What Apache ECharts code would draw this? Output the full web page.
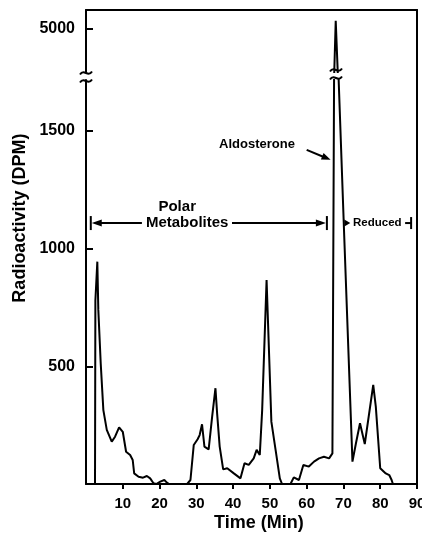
<!DOCTYPE html>
<html><head><meta charset="utf-8">
<script src="https://cdn.jsdelivr.net/npm/echarts@6/dist/echarts.min.js"></script>
<style>html,body{margin:0;padding:0;background:#fff}#c{width:422px;height:534px}</style>
</head><body><div id="c"></div>
<script>
// ---- data ----
const times = [2.45, 2.55, 3.08, 3.35, 4.0, 4.72, 5.65, 7.0, 7.9, 9.0, 10.0, 10.9, 12.0, 12.7, 13.1, 14.3, 15.5, 16.55, 17.45, 18.35, 19.1, 20.2, 21.3, 22.0, 22.6, 27.5, 28.4, 29.3, 30.35, 30.9, 31.55, 32.2, 33.35, 34.3, 35.2, 35.65, 36.35, 37.3, 38.4, 40.2, 42.0, 43.1, 44.25, 45.6, 46.4, 47.25, 47.9, 49.1, 50.4, 51.55, 52.7, 53.3, 55.6, 56.5, 57.9, 59.1, 60.6, 62.0, 63.35, 64.7, 66.1, 67.0, 67.45, 67.5, 67.9, 68.45, 68.7, 70.2, 72.45, 73.4, 74.5, 75.8, 78.1, 78.8, 80.0, 81.5, 82.45, 83.1, 83.45];
const dpm   = [0, 780, 945, 740, 513, 314, 230, 180, 201, 241, 222, 137, 123, 102, 45, 31, 27, 34, 24, 3, 0, 10, 17, 6, 0, 0, 17, 166, 190, 208, 254, 159, 147, 286, 407, 300, 159, 62, 67, 45, 24, 88, 81, 109, 145, 123, 314, 867, 265, 145, 24, 0, 0, 28, 17, 81, 74, 95, 109, 116, 109, 130, 1717, 3840, 5210, 3840, 1717, 1058, 95, 173, 258, 170, 421, 329, 67, 45, 38, 17, 0];
const xTickLabels = [10, 20, 30, 40, 50, 60, 70, 80, 90];
const lowerTickLabels = [500, 1000, 1500];
const upperTickLabels = [5000];
const lowerRange = [0, 1717];
const upperRange = [3840, 5500];
const xRange = [0, 90];

const series = times.map((t, i) => [t, dpm[i]]);
const black = '#000';
const numFont = 'Liberation Sans, Arial, sans-serif';
const txtFont = 'Liberation Sans, Arial, sans-serif';
const plain = v => String(v);

const chart = echarts.init(document.getElementById('c'), null, {renderer: 'canvas'});
const G = {left: 86, right: 5, outerBoundsMode: 'none', containLabel: false};
chart.setOption({
  backgroundColor: '#fff',
  animation: false,
  grid: [
    Object.assign({top: 10, height: 62}, G),
    Object.assign({top: 80, bottom: 50}, G),
    Object.assign({top: 10, bottom: 50}, G)
  ],
  xAxis: [
    {gridIndex: 0, type: 'value', min: xRange[0], max: xRange[1], show: false},
    {gridIndex: 1, type: 'value', min: xRange[0], max: xRange[1],
      axisLine: {show: true, onZero: false, lineStyle: {color: black, width: 2}},
      axisTick: {show: true, inside: false, length: 5, lineStyle: {color: black, width: 2}, customValues: xTickLabels},
      axisLabel: {show: true, margin: 12, color: black, fontFamily: numFont, fontWeight: 'bold', fontSize: 15, customValues: xTickLabels, formatter: plain},
      splitLine: {show: false}
    },
    {gridIndex: 2, type: 'value', position: 'top', min: 0, max: 1,
      axisLine: {show: true, onZero: false, lineStyle: {color: black, width: 2}},
      axisTick: {show: false}, axisLabel: {show: false}, splitLine: {show: false}}
  ],
  yAxis: [
    {gridIndex: 0, type: 'value', min: upperRange[0], max: upperRange[1],
      axisLine: {show: true, onZero: false, lineStyle: {color: black, width: 2}},
      axisTick: {show: true, inside: true, length: 7, lineStyle: {color: black, width: 2}, customValues: upperTickLabels},
      axisLabel: {show: true, margin: 11, color: black, fontFamily: numFont, fontWeight: 'bold', fontSize: 16, customValues: upperTickLabels, formatter: plain},
      splitLine: {show: false}},
    {gridIndex: 1, type: 'value', min: lowerRange[0], max: lowerRange[1],
      axisLine: {show: true, onZero: false, lineStyle: {color: black, width: 2}},
      axisTick: {show: true, inside: true, length: 7, lineStyle: {color: black, width: 2}, customValues: lowerTickLabels},
      axisLabel: {show: true, margin: 11, color: black, fontFamily: numFont, fontWeight: 'bold', fontSize: 16, customValues: lowerTickLabels, formatter: plain},
      splitLine: {show: false}},
    {gridIndex: 2, type: 'value', position: 'right', min: 0, max: 1,
      axisLine: {show: true, onZero: false, lineStyle: {color: black, width: 2}},
      axisTick: {show: false}, axisLabel: {show: false}, splitLine: {show: false}}
  ],
  series: [
    {type: 'line', xAxisIndex: 0, yAxisIndex: 0, data: series, symbol: 'none', clip: true,
      lineStyle: {color: black, width: 2}},
    {type: 'line', xAxisIndex: 1, yAxisIndex: 1, data: series, symbol: 'none', clip: true,
      lineStyle: {color: black, width: 2}}
  ]
});

// ---- annotations (text + arrows), positioned in data space of the lower panel ----
const P = (x, v) => chart.convertToPixel({gridIndex: 1}, [x, v]);
const PU = (x, v) => chart.convertToPixel({gridIndex: 0}, [x, v]);
function seg(a, b, w) { return {type: 'line', shape: {x1: a[0], y1: a[1], x2: b[0], y2: b[1]}, style: {stroke: black, lineWidth: w || 2}}; }
function head(tip, from, len, half) {
  const dx = tip[0] - from[0], dy = tip[1] - from[1];
  const L = Math.hypot(dx, dy), ux = dx / L, uy = dy / L;
  const bx = tip[0] - ux * len, by = tip[1] - uy * len;
  return {type: 'polygon', shape: {points: [tip, [bx - uy * half, by + ux * half], [bx + uy * half, by - ux * half]]}, style: {fill: black}};
}
function tilde(cx, cy, hw) {
  return {type: 'bezierCurve', shape: {x1: cx - hw, y1: cy + 1.5, x2: cx + hw, y2: cy - 1.5,
    cpx1: cx - hw / 3, cpy1: cy - 5, cpx2: cx + hw / 3, cpy2: cy + 5},
    style: {stroke: black, lineWidth: 2, fill: null}};
}
function text(str, p, size, align, extra) {
  return Object.assign({type: 'text', x: p[0], y: p[1], style: {text: str, fill: black, font: 'bold ' + size + 'px ' + txtFont,
    align: align || 'center', verticalAlign: 'middle'}}, extra || {});
}

const els = [];
// axis break marks
const ax = P(0, 0)[0];
const yTop = PU(0, upperRange[0])[1];
const yBot = P(0, lowerRange[1])[1];
els.push(tilde(ax, yTop + 1, 6), tilde(ax, yBot + 1, 6));
// break marks on the peak
const iPk = dpm.indexOf(Math.max.apply(null, dpm));
const pkx = (P(times[iPk - 1], 0)[0] + P(times[iPk + 1], 0)[0]) / 2;
els.push(tilde(pkx, yTop - 2, 6), tilde(pkx, yBot - 2, 6));

// Polar metabolites range arrow
const yPol = P(0, 1109)[1];
const xL = P(1.3, 0)[0], xR = P(65.5, 0)[0];
const gL = P(15.2, 0)[0], gR = P(39.7, 0)[0];
els.push(seg([xL, yPol - 7], [xL, yPol + 7]), seg([xR, yPol - 7], [xR, yPol + 7]));
els.push(seg([xL + 4, yPol], [gL, yPol]), seg([gR, yPol], [xR - 4, yPol]));
els.push(head([xL + 1, yPol], [xL + 20, yPol], 10, 3.5), head([xR - 1, yPol], [xR - 20, yPol], 10, 3.5));
els.push(text('Polar', [P(24.8, 0)[0], P(0, 1177)[1]], 15));
els.push(text('Metabolites', [P(27.5, 0)[0], yPol], 15));

// Reduced range
const rA = P(70.5, 0)[0], rB = P(88.4, 0)[0];
els.push(head([rA + 5, yPol], [rA - 5, yPol], 6, 3.5));
els.push(text('Reduced', [P(72.6, 0)[0], yPol], 11.5, 'left'));
els.push(seg([rB - 6, yPol], [rB, yPol]), seg([rB, yPol - 6], [rB, yPol + 6]));

// Aldosterone label + arrow
els.push(text('Aldosterone', [P(56.8, 0)[0], P(0, 1445)[1]], 13, 'right'));
const a0 = P(60.0, 1420), a1 = P(66.5, 1378);
els.push(seg(a0, [a1[0] - 5, a1[1] - 2]), head(a1, a0, 9, 3.5));

// axis titles
els.push(text('Radioactivity (DPM)', [20, P(0, 1130)[1]], 18, 'center', {rotation: Math.PI / 2}));
els.push(text('Time (Min)', [P(47, 0)[0], 523], 18));

chart.setOption({graphic: {elements: els}});
</script></body></html>
